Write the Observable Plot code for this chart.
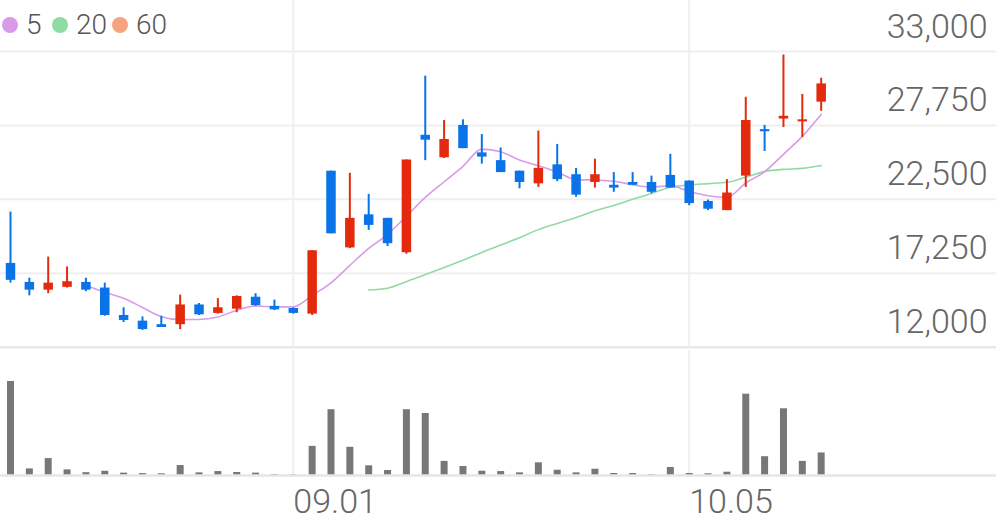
<!DOCTYPE html>
<html>
<head>
<meta charset="utf-8">
<script src="https://cdn.jsdelivr.net/npm/d3@7"></script>
<script src="https://cdn.jsdelivr.net/npm/@observablehq/plot@0.6"></script>
<style>
  html, body { margin: 0; padding: 0; background: #fff; }
  #wrap { position: relative; width: 996px; height: 519px; overflow: hidden; font-family: Roboto, sans-serif; }
  #price, #volume { position: absolute; left: 0; }
  #price { top: 0; }
  #volume { top: 350px; }
  #legend { position: absolute; top: 0; left: 0; height: 50px; width: 200px; }
  .item { position: absolute; top: 11px; display: flex; align-items: center; height: 28px; }
  .dot { width: 16px; height: 16px; border-radius: 50%; margin-right: 8px; }
  .lab { font-size: 28px; font-weight: 300; color: #555; line-height: 28px; }
</style>
</head>
<body>
<div id="wrap">
  <div id="price"></div>
  <div id="volume"></div>
  <div id="legend"></div>
</div>
<script>
// ---- data ----
const open  = [17950,16600,16050,16250,16600,16200,14250,13850,13600,13600,15000,14400,14700,15550,14900,14750,14350,24500,19050,21400,21150,18700,27050,25450,27750,25800,25250,24500,23600,24950,24250,23700,23500,23700,23700,24200,23800,22350,21700,24150,27450,28200,28000,29400];
const high  = [21600,16900,18400,17700,16900,16550,14800,14150,14200,15700,15100,15450,15650,15800,15350,14800,18850,24500,24350,22850,21150,25300,31250,28100,28150,27100,26150,24500,27350,26400,24700,25350,24400,24400,24150,25700,23800,22450,23900,29750,27750,32750,29950,31100];
const low   = [16550,15650,15800,16200,15950,14200,13750,13200,13400,13250,14250,14350,14450,14900,14600,14350,14250,20050,19000,20300,19150,18600,25250,25400,26100,25000,24400,23250,23350,23750,22650,23300,23000,23500,22900,23300,22050,21700,21700,23350,25900,27600,26900,28750];
const close = [16750,16050,16550,16650,16050,14250,13900,13250,13400,15000,14300,14800,15600,14950,14650,14400,18850,20050,21150,20650,19350,25300,26700,26750,26100,25500,24400,23700,24700,23900,22800,24250,23300,23500,23000,23300,22200,21800,22950,28100,27300,28400,28150,30700];
const volume = [100,7,18,6,3,4.5,2.5,2,1.8,10.6,2.8,4.2,3.2,2.5,1.1,0.7,31,70,30,10.3,5.3,70,66,15,9.6,4.6,4.2,2.8,13.5,5.6,2.8,6.7,2.1,2.1,1,8.5,2.1,1.8,3.5,86.5,20,71,15,24];
const ma5Start = 4;
const ma5  = [16400,15900,15480,14820,14170,13960,13970,14150,14620,14930,14860,14870,15680,16570,17810,19020,20010,21300,22640,23750,24840,26070,25880,25290,24890,24440,23900,23870,23790,23540,23370,23470,23060,22760,22640,23660,24460,25700,26970,28530];
const ma20Start = 19;
const ma20 = [16060,16190,16650,17160,17660,18170,18730,19260,19780,20350,20790,21210,21690,22070,22500,22920,23360,23530,23620,23710,24080,24480,24630,24700,24900];
const yTicks = [12000,17250,22500,27750,33000];
const xTickIdx = [15,36];
const xTickLabels = ["09.01","10.05"];
const legendLabels = ["5","20","60"];
const legendColors = ["#d79be9","#8fdca2","#f6a47e"];

// ---- build ----
const red = "#e32a0d", blue = "#0a73e8";
const candles = d3.range(open.length).map(i => ({i, o: open[i], h: high[i], l: low[i], c: close[i], v: volume[i], up: close[i] >= open[i]}));
const ma5Data = ma5.map((v, k) => ({i: k + ma5Start, v}));
const ma20Data = ma20.map((v, k) => ({i: k + ma20Start, v}));
const xDomain = [-0.53, 52.3];
const fmt = d3.format(",");

const price = Plot.plot({
  width: 996, height: 350,
  marginLeft: 0, marginRight: 0, marginTop: 0, marginBottom: 3.3,
  style: {fontFamily: "Roboto, sans-serif", background: "transparent"},
  x: {type: "linear", domain: xDomain, axis: null},
  y: {domain: [12000, 36622], axis: null},
  marks: [
    Plot.ruleY(yTicks.slice(1), {stroke: "#efefef", strokeWidth: 2}),
    Plot.ruleY(yTicks.slice(0, 1), {stroke: "#e8e8e8", strokeWidth: 2.5}),
    Plot.ruleX(xTickIdx, {stroke: "#efefef", strokeWidth: 2}),
    Plot.text(yTicks, {y: d => d, text: d => fmt(d), frameAnchor: "right", textAnchor: "end", lineAnchor: "bottom", dx: -9, dy: -14, fontSize: 34, fontWeight: 300, fill: "#666"}),
    Plot.line(ma20Data, {x: "i", y: "v", stroke: "#8fdca2", strokeWidth: 1.6, curve: "monotone-x"}),
    Plot.line(ma5Data, {x: "i", y: "v", stroke: "#d79be9", strokeWidth: 1.6, curve: "monotone-x"}),
    Plot.ruleX(candles.filter(d => d.up), {x: "i", y1: "l", y2: "h", stroke: red, strokeWidth: 2}),
    Plot.ruleX(candles.filter(d => !d.up), {x: "i", y1: "l", y2: "h", stroke: blue, strokeWidth: 2}),
    Plot.ruleX(candles.filter(d => d.up), {x: "i", y1: "o", y2: "c", stroke: red, strokeWidth: 9.5}),
    Plot.ruleX(candles.filter(d => !d.up), {x: "i", y1: "o", y2: "c", stroke: blue, strokeWidth: 9.5})
  ]
});
document.getElementById("price").appendChild(price);

const vol = Plot.plot({
  width: 996, height: 169,
  marginLeft: 0, marginRight: 0, marginTop: 0, marginBottom: 44,
  style: {fontFamily: "Roboto, sans-serif", background: "transparent"},
  x: {type: "linear", domain: xDomain, axis: null},
  y: {domain: [0, 133], axis: null},
  marks: [
    Plot.ruleX(xTickIdx, {stroke: "#efefef", strokeWidth: 2}),
    Plot.ruleX(candles, {x: "i", y1: 0, y2: "v", stroke: "#777", strokeWidth: 7}),
    Plot.ruleY([0], {stroke: "#e6e6e6", strokeWidth: 2.5}),
    Plot.text(xTickIdx, {x: d => d, text: (d, k) => xTickLabels[k], frameAnchor: "bottom", textAnchor: "start", lineAnchor: "bottom", dy: 37, fontSize: 34, fontWeight: 300, fill: "#666"})
  ]
});
document.getElementById("volume").appendChild(vol);

// legend
const lg = document.getElementById("legend");
const lefts = [2, 52, 112];
legendLabels.forEach((t, k) => {
  const it = document.createElement("div");
  it.className = "item";
  it.style.left = lefts[k] + "px";
  it.innerHTML = `<span class="dot" style="background:${legendColors[k]}"></span><span class="lab">${t}</span>`;
  lg.appendChild(it);
});
</script>
</body>
</html>
